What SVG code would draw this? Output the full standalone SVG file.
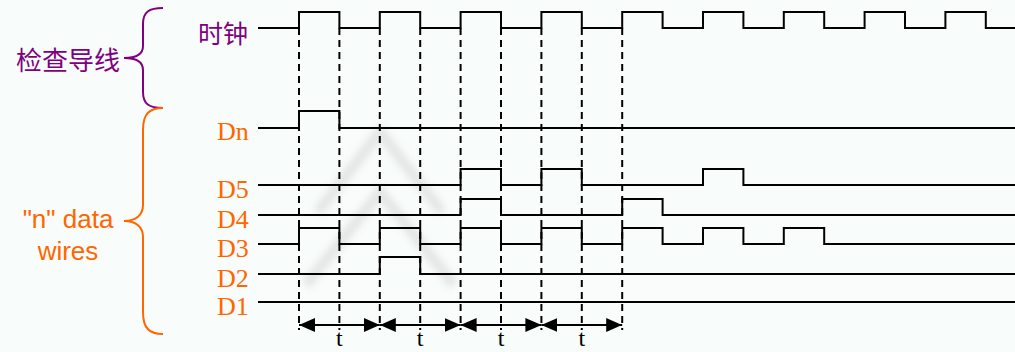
<svg xmlns="http://www.w3.org/2000/svg" width="1015" height="352" viewBox="0 0 1015 352">
  <defs>
    <style>
      .wave { fill: none; stroke: #000; stroke-width: 2; }
      .grid { fill: none; stroke: #000; stroke-width: 2; stroke-dasharray: 7 5; }
      .span { fill: none; stroke: #000; stroke-width: 2; marker-start: url(#head); marker-end: url(#head); }
      .sig { font-family: "Liberation Serif", "Times New Roman", serif; font-size: 26px; fill: #ff6600; }
      .cjk { font-family: "Noto Sans CJK SC", "Noto Sans", sans-serif; fill: #800080; }
      .grp { font-family: "Liberation Sans", Arial, sans-serif; font-size: 26px; fill: #ff6600; text-anchor: middle; }
      .tlab { font-family: "Liberation Serif", "Times New Roman", serif; font-size: 24px; fill: #000; text-anchor: middle; }
      .brace { fill: none; stroke-width: 2; }
    </style>
    <marker id="head" viewBox="0 0 16 14" refX="16" refY="7" markerWidth="16" markerHeight="14" markerUnits="userSpaceOnUse" orient="auto-start-reverse">
      <path d="M0 0 L16 7 L0 14 Z" fill="#000"/>
    </marker>
    <filter id="soft" x="-20%" y="-20%" width="140%" height="140%">
      <feGaussianBlur stdDeviation="3.5"/>
    </filter>
  </defs>

  <rect width="1015" height="352" fill="#f8fcfa"/>

  <!-- faint background emblem: two stacked chevrons -->
  <g id="emblem" filter="url(#soft)" fill="none" stroke="#9a9a9a" stroke-opacity="0.22" stroke-width="11" stroke-linejoin="miter">
    <polyline points="318,212 380,132 442,212"/>
    <polyline points="306,285 380,192 454,285"/>
  </g>

  <!-- group braces and labels -->
  <g id="check-group">
    <path class="brace" stroke="#800080" d="M163 8 C149 8 143 12 143 24 V46 C143 54 136 58 124 58 C136 58 143 62 143 70 V92 C143 104 149 108 163 108"/>
    <text class="cjk" x="16" y="70" font-size="26">检查导线</text>
  </g>
  <g id="data-group">
    <path class="brace" stroke="#ff6600" d="M163 108 C149 108 143 114 143 130 V205 C143 215 136 221 124 221 C136 221 143 227 143 237 V312 C143 328 149 334 163 334"/>
    <text class="grp" x="68" y="228">"n" data</text>
    <text class="grp" x="68" y="260">wires</text>
  </g>

  <!-- signal names -->
  <g id="label-clock"><text class="cjk" x="198" y="43" font-size="25">时钟</text></g>
  <g id="label-dn"><text class="sig" x="217" y="140">Dn</text></g>
  <g id="label-d5"><text class="sig" x="217" y="198">D5</text></g>
  <g id="label-d4"><text class="sig" x="217" y="228">D4</text></g>
  <g id="label-d3"><text class="sig" x="217" y="257">D3</text></g>
  <g id="label-d2"><text class="sig" x="217" y="287">D2</text></g>
  <g id="label-d1"><text class="sig" x="217" y="315">D1</text></g>

  <!-- waveforms -->
  <g id="wave-clock">
    <path class="wave" d="M258 28 H299 V12 H339.4 V28 H379.8 V12 H420.2 V28 H460.6 V12 H501 V28 H541.4 V12 H581.8 V28 H622.2 V12 H662.6 V28 H703 V12 H743.4 V28 H783.8 V12 H824.2 V28 H864.6 V12 H905 V28 H945.4 V12 H985.8 V28 H1015"/>
  </g>
  <g id="wave-dn">
    <path class="wave" d="M258 128 H299 V111 H339.4 V128 H1015"/>
  </g>
  <g id="wave-d5">
    <path class="wave" d="M258 185 H460.6 V169 H501 V185 H541.4 V169 H581.8 V185 H703 V169 H743.4 V185 H1015"/>
  </g>
  <g id="wave-d4">
    <path class="wave" d="M258 215 H460.6 V199 H501 V215 H622.2 V199 H662.6 V215 H1015"/>
  </g>
  <g id="wave-d3">
    <path class="wave" d="M258 244 H299 V228 H339.4 V244 H379.8 V228 H420.2 V244 H460.6 V228 H501 V244 H541.4 V228 H581.8 V244 H622.2 V228 H662.6 V244 H703 V228 H743.4 V244 H783.8 V228 H824.2 V244 H1015"/>
  </g>
  <g id="wave-d2">
    <path class="wave" d="M258 274 H379.8 V257 H420.2 V274 H1015"/>
  </g>
  <g id="wave-d1">
    <path class="wave" d="M258 302 H1015"/>
  </g>

  <!-- clock-edge guides and period spans -->
  <g id="connectors">
    <path class="grid" d="M299 28 V330 M339.4 28 V330 M379.8 28 V330 M420.2 28 V330 M460.6 28 V330 M501 28 V330 M541.4 28 V330 M581.8 28 V330 M622.2 28 V330"/>
    <line class="span" x1="299" y1="325" x2="379.8" y2="325"/>
    <line class="span" x1="379.8" y1="325" x2="460.6" y2="325"/>
    <line class="span" x1="460.6" y1="325" x2="541.4" y2="325"/>
    <line class="span" x1="541.4" y1="325" x2="622.2" y2="325"/>
  </g>

  <g id="period-labels">
    <text class="tlab" x="339.4" y="346">t</text>
    <text class="tlab" x="420.2" y="346">t</text>
    <text class="tlab" x="501" y="346">t</text>
    <text class="tlab" x="581.8" y="346">t</text>
  </g>
</svg>
